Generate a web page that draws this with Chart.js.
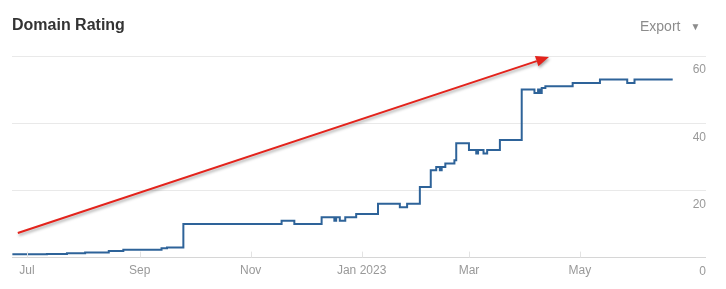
<!DOCTYPE html>
<html>

<head>
    <style>
        body {
            margin: 0;
            background: #fff;
            font-family: "Liberation Sans", Arial, sans-serif;
        }

        .wrap {
            position: relative;
            width: 726px;
            height: 289px;
        }

        .title {
            position: absolute;
            left: 12px;
            top: 16px;
            font-size: 16px;
            font-weight: bold;
            color: #333;
        }

        .export {
            position: absolute;
            left: 640px;
            top: 18px;
            font-size: 14px;
            color: #8c8c8c;
        }

        .export span {
            font-size: 10px;
            margin-left: 10px;
            position: relative;
            top: -1px;
        }

        canvas {
            position: absolute;
            left: 0;
            top: 0;
        }
    </style>
    <script src="https://cdn.jsdelivr.net/npm/chart.js"></script>
</head>

<body>
    <div class="wrap">
        <canvas id="drChart" width="726" height="289"></canvas>
        <div class="title">Domain Rating</div>
        <div class="export">Export<span>&#9660;</span></div>
    </div>

    <script>
        // dates where the rating changed, and the new value from that day on
        const changeDates = ['2022-06-23', '2022-07-12', '2022-07-23', '2022-08-02', '2022-08-15', '2022-08-23',
            '2022-09-13', '2022-09-16', '2022-09-25', '2022-11-18', '2022-11-25', '2022-12-10', '2022-12-17',
            '2022-12-18', '2022-12-20', '2022-12-23', '2022-12-29', '2023-01-10', '2023-01-22', '2023-01-26',
            '2023-02-02', '2023-02-08', '2023-02-11', '2023-02-13', '2023-02-14', '2023-02-16', '2023-02-21',
            '2023-02-22', '2023-03-01', '2023-03-05', '2023-03-06', '2023-03-09', '2023-03-11', '2023-03-18',
            '2023-03-30', '2023-04-06', '2023-04-08', '2023-04-09', '2023-04-10', '2023-04-12', '2023-04-27',
            '2023-05-12', '2023-05-27', '2023-05-31', '2023-06-21'];
        const ratings = [1, 1.1, 1.3, 1.5, 2, 2.3, 2.8, 3, 10, 11, 10, 12, 11, 12, 11, 12, 13, 16, 15, 16,
            21, 26, 27, 26, 27, 28, 29, 34, 32, 31, 32, 31, 32, 35, 50, 49, 50, 49, 50.5, 51, 52, 53, 52, 53, 53];

        const tickDates = ['2022-07-01', '2022-09-01', '2022-11-01', '2023-01-01', '2023-03-01', '2023-05-01'];
        const tickLabels = ['Jul', 'Sep', 'Nov', 'Jan 2023', 'Mar', 'May'];
        const yTicks = [0, 20, 40, 60];

        // the red arrow drawn over the chart (date, value)
        const arrowFrom = ['2022-06-26', 7.3];
        const arrowTo = ['2023-04-14', 59.7];

        const dayZero = Date.UTC(2022, 6, 1);
        function toDay(str) {
            const p = str.split('-');
            return (Date.UTC(+p[0], +p[1] - 1, +p[2]) - dayZero) / 86400000;
        }

        const points = changeDates.map((d, i) => ({ x: toDay(d), y: ratings[i] }));
        const tickDays = tickDates.map(toDay);

        const extras = {
            id: 'extras',
            afterDatasetsDraw(chart) {
                const ctx = chart.ctx;
                const xs = chart.scales.x;
                const ys = chart.scales.y;
                const bottom = chart.chartArea.bottom;

                // small tick marks above the base line
                ctx.save();
                ctx.strokeStyle = '#e3e3e3';
                ctx.lineWidth = 1;
                tickDays.forEach(d => {
                    const px = Math.round(xs.getPixelForValue(d)) + 0.5;
                    ctx.beginPath();
                    ctx.moveTo(px, bottom - 6);
                    ctx.lineTo(px, bottom);
                    ctx.stroke();
                });
                ctx.restore();

                // red arrow
                const x1 = xs.getPixelForValue(toDay(arrowFrom[0]));
                const y1 = ys.getPixelForValue(arrowFrom[1]);
                const x2 = xs.getPixelForValue(toDay(arrowTo[0]));
                const y2 = ys.getPixelForValue(arrowTo[1]);
                const ang = Math.atan2(y2 - y1, x2 - x1);
                const headLen = 13;
                const headW = 5.5;
                const bx = x2 - headLen * Math.cos(ang);
                const by = y2 - headLen * Math.sin(ang);

                ctx.save();
                ctx.shadowColor = 'rgba(0,0,0,0.35)';
                ctx.shadowBlur = 3;
                ctx.shadowOffsetX = 1;
                ctx.shadowOffsetY = 2;
                ctx.strokeStyle = '#e3231c';
                ctx.fillStyle = '#e3231c';
                ctx.lineWidth = 2;
                ctx.beginPath();
                ctx.moveTo(x1, y1);
                ctx.lineTo(bx, by);
                ctx.stroke();
                ctx.beginPath();
                ctx.moveTo(x2, y2);
                ctx.lineTo(bx + headW * Math.sin(ang), by - headW * Math.cos(ang));
                ctx.lineTo(bx - headW * Math.sin(ang), by + headW * Math.cos(ang));
                ctx.closePath();
                ctx.fill();
                ctx.restore();
            }
        };

        const config = {
            type: 'line',
            data: {
                datasets: [{
                    label: 'Domain Rating',
                    data: points,
                    stepped: true,
                    borderColor: '#2e6399',
                    borderWidth: 2,
                    pointRadius: 0,
                    fill: false
                }]
            },
            options: {
                responsive: false,
                animation: false,
                layout: {
                    padding: { left: 12, top: 56, right: 20, bottom: 5 }
                },
                plugins: {
                    legend: { display: false },
                    tooltip: { enabled: false }
                },
                scales: {
                    x: {
                        type: 'linear',
                        min: -8.2,
                        max: 373.3,
                        afterBuildTicks: axis => {
                            axis.ticks = tickDays.map(v => ({ value: v }));
                        },
                        ticks: {
                            autoSkip: false,
                            maxRotation: 0,
                            padding: 6,
                            color: '#999',
                            font: { family: 'Liberation Sans', size: 12 },
                            callback: (v) => tickLabels[tickDays.indexOf(v)]
                        },
                        grid: { display: false, drawTicks: false, tickLength: 0 },
                        border: { display: false }
                    },
                    y: {
                        position: 'right',
                        min: 0,
                        max: 60,
                        afterBuildTicks: axis => {
                            axis.ticks = yTicks.map(v => ({ value: v }));
                        },
                        ticks: {
                            mirror: true,
                            padding: 0,
                            labelOffset: 14,
                            color: '#999',
                            font: { family: 'Liberation Sans', size: 12 }
                        },
                        grid: {
                            drawTicks: false,
                            color: ctx => ctx.tick && ctx.tick.value === 0 ? '#d6d6d6' : '#e9e9e9'
                        },
                        border: { display: false }
                    }
                }
            },
            plugins: [extras]
        };

        const drChart = new Chart(document.getElementById('drChart'), config);
    </script>
</body>

</html>
